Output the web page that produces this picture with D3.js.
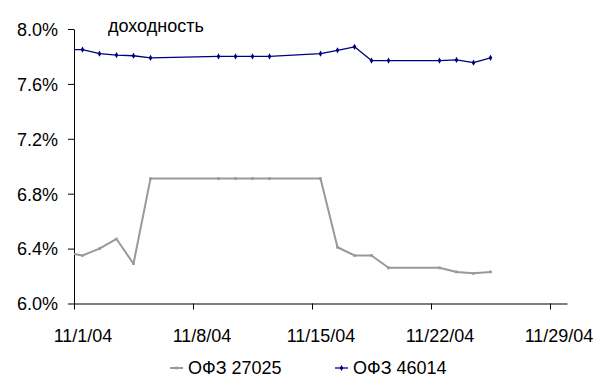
<!DOCTYPE html>
<html>
<head>
<meta charset="utf-8">
<script src="https://cdn.jsdelivr.net/npm/d3@7"></script>
<style>
  body { margin: 0; background: #fff; }
  svg text { font-family: "Liberation Sans", Arial, sans-serif; fill: #000; }
</style>
</head>
<body>
<div id="chart"></div>
<script>
// даты торгов (первая точка до начала оси — линия обрезается по области графика)
var dates = ['2004-10-29', '2004-11-01', '2004-11-02', '2004-11-03', '2004-11-04', '2004-11-05',
  '2004-11-09', '2004-11-10', '2004-11-11', '2004-11-12',
  '2004-11-15', '2004-11-16', '2004-11-17', '2004-11-18', '2004-11-19',
  '2004-11-22', '2004-11-23', '2004-11-24', '2004-11-25'];

// доходность, %
var ofz27025 = [6.41, 6.35, 6.40, 6.47, 6.29, 6.91,
  6.91, 6.91, 6.91, 6.91,
  6.91, 6.41, 6.35, 6.35, 6.26,
  6.26, 6.23, 6.22, 6.23];
var ofz46014 = [7.85, 7.85, 7.82, 7.81, 7.805, 7.79,
  7.80, 7.80, 7.80, 7.80,
  7.82, 7.845, 7.87, 7.77, 7.77,
  7.77, 7.775, 7.755, 7.79];

var seriesNames = ['ОФЗ 27025', 'ОФЗ 46014'];
var xTickDates = ['2004-11-01', '2004-11-08', '2004-11-15', '2004-11-22', '2004-11-29'];
var yTicks = [6.0, 6.4, 6.8, 7.2, 7.6, 8.0];
var title = 'доходность';

var width = 595;
var height = 379;
var margin = {top: 29, right: 28, bottom: 75.5, left: 74};

var parse = d3.utcParse('%Y-%m-%d');

var x = d3.scaleUtc()
  .domain([parse('2004-11-01'), parse('2004-11-30')])
  .range([margin.left, width - margin.right]);
var y = d3.scaleLinear()
  .domain([6.0, 8.0])
  .range([height - margin.bottom, margin.top]);

// точки стоят в середине дня, как у оси дат в Excel
var halfDay = (x(parse('2004-11-02')) - x(parse('2004-11-01'))) / 2;
function px(d) { return x(d.date) + halfDay; }

var series = [
  {name: seriesNames[0], color: '#999999', width: 2, marker: 'square',
    values: dates.map(function(d, i) { return {date: parse(d), v: ofz27025[i]}; })},
  {name: seriesNames[1], color: '#000080', width: 1.3, marker: 'diamond',
    values: dates.map(function(d, i) { return {date: parse(d), v: ofz46014[i]}; })}
];

function markerPath(s) {
  return d3.symbol()
    .type(s.marker === 'diamond' ? d3.symbolDiamond : d3.symbolSquare)
    .size(s.marker === 'diamond' ? 11 : 7)();
}

var svg = d3.select('#chart').append('svg')
  .attr('width', width).attr('height', height);

svg.append('defs').append('clipPath').attr('id', 'plot-clip')
  .append('rect')
  .attr('x', margin.left).attr('y', 0)
  .attr('width', width - margin.right - margin.left)
  .attr('height', height - margin.bottom + 2);

// ось Y
var yAxis = svg.append('g')
  .attr('transform', 'translate(' + margin.left + ',0)')
  .call(d3.axisLeft(y).tickValues(yTicks).tickSize(6).tickSizeOuter(0).tickPadding(10)
    .tickFormat(function(d) { return d3.format('.1f')(d) + '%'; }));
yAxis.select('.domain').attr('stroke', '#000');
yAxis.selectAll('.tick line').attr('stroke', '#000');
yAxis.selectAll('.tick text').attr('font-size', 18).attr('font-family', null).attr('dy', '0.35em');

// ось X
var xAxis = svg.append('g')
  .attr('transform', 'translate(0,' + (height - margin.bottom) + ')')
  .call(d3.axisBottom(x).tickValues(xTickDates.map(parse)).tickSize(6).tickSizeOuter(0)
    .tickFormat(d3.utcFormat('%-m/%-d/%y')));
xAxis.select('.domain').attr('stroke', '#555').attr('stroke-width', 1.5);
xAxis.selectAll('.tick line').attr('stroke', '#000');
xAxis.selectAll('.tick text')
  .attr('font-size', 18).attr('font-family', null)
  .attr('x', halfDay).attr('y', 38.5).attr('dy', 0);

// линии
var line = d3.line()
  .x(px)
  .y(function(d) { return y(d.v); });

var plot = svg.append('g').attr('clip-path', 'url(#plot-clip)');

series.forEach(function(s) {
  var g = plot.append('g');
  g.append('path')
    .datum(s.values)
    .attr('fill', 'none')
    .attr('stroke', s.color)
    .attr('stroke-width', s.width)
    .attr('stroke-linejoin', 'round')
    .attr('d', line);

  g.selectAll('path.pt')
    .data(s.values)
    .enter().append('path')
    .attr('class', 'pt')
    .attr('transform', function(d) { return 'translate(' + px(d) + ',' + y(d.v) + ')'; })
    .attr('fill', s.color)
    .attr('d', markerPath(s));
});

// подпись
svg.append('text')
  .attr('x', 108).attr('y', 32)
  .attr('font-size', 18)
  .text(title);

// легенда
var legendPos = [170, 335];
var legend = svg.append('g').selectAll('g')
  .data(series)
  .enter().append('g')
  .attr('transform', function(d, i) { return 'translate(' + legendPos[i] + ',368)'; });
legend.append('line')
  .attr('x1', 0).attr('x2', 13)
  .attr('stroke', function(d) { return d.color; })
  .attr('stroke-width', function(d) { return d.width; });
legend.append('path')
  .attr('transform', 'translate(6.5,0)')
  .attr('fill', function(d) { return d.color; })
  .attr('d', markerPath);
legend.append('text')
  .attr('x', 18).attr('y', 6)
  .attr('font-size', 18)
  .text(function(d) { return d.name; });
</script>
</body>
</html>
